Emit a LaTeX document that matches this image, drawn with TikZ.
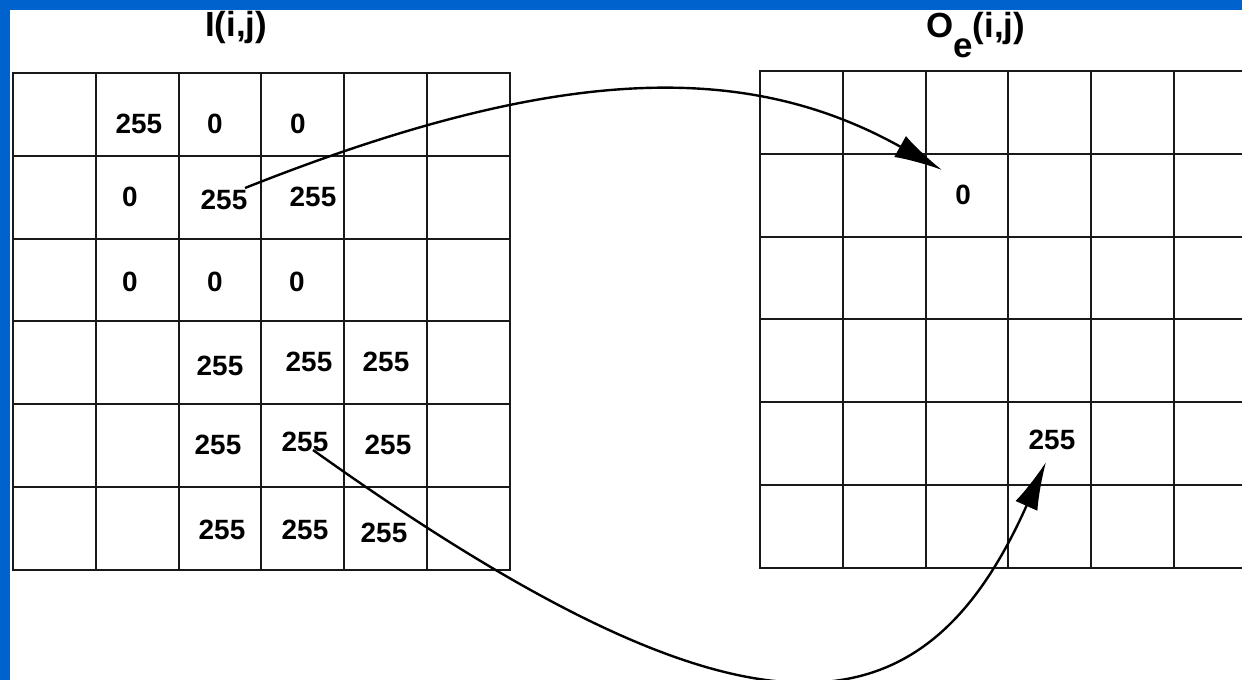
\documentclass[tikz,border=0pt]{standalone}
\usepackage{fontspec}
\setmainfont{Liberation Sans}
\usetikzlibrary{arrows.meta}
\definecolor{frameblue}{HTML}{0062CC}
\begin{document}
\begin{tikzpicture}[x=1bp,y=-1bp,
  gridline/.style={line width=2bp, draw=black!90, line cap=rect},
  val/.style={font=\fontsize{28}{30}\selectfont\bfseries, inner sep=0pt},
  ttl/.style={font=\fontsize{35}{37}\selectfont\bfseries, inner sep=0pt},
  link/.style={line width=2.4bp, -{Latex[length=48bp,width=24bp]}}]
\useasboundingbox (0,0) rectangle (1242,680);
\clip (0,0) rectangle (1242,680);
\fill[white] (0,0) rectangle (1242,680);
% left grid
\foreach \i in {0,...,6} {
  \draw[gridline] ({13+\i*82.83},73) -- ({13+\i*82.83},570);
  \draw[gridline] (13,{73+\i*82.83}) -- (510,{73+\i*82.83});
}
% right grid
\foreach \i in {0,...,6} {
  \draw[gridline] ({760+\i*82.8},71) -- ({760+\i*82.8},568);
  \draw[gridline] (760,{71+\i*82.83}) -- (1257,{71+\i*82.83});
}
% titles
\node[ttl, anchor=base] (tI) at (236,37) {I(i,j)};
\node[ttl, anchor=base west] (tO) at (926,38) {O\raisebox{-20bp}{e}(i,j)};
% left values
\node[val] (L12) at (139,124) {255};
\node[val] (L13) at (215,124) {0};
\node[val] (L14) at (298,124) {0};
\node[val] (L22) at (130,197) {0};
\node[val] (L23) at (224,200) {255};
\node[val] (L24) at (313,197) {255};
\node[val] (L32) at (130,282) {0};
\node[val] (L33) at (215,282) {0};
\node[val] (L34) at (297,282) {0};
\node[val] (L43) at (220,366) {255};
\node[val] (L44) at (309,362) {255};
\node[val] (L45) at (386,362) {255};
\node[val] (L53) at (218,445) {255};
\node[val] (L54) at (305,442) {255};
\node[val] (L55) at (388,445) {255};
\node[val] (L63) at (222,530) {255};
\node[val] (L64) at (305,530) {255};
\node[val] (L65) at (384,533) {255};
% right values
\node[val] (R23) at (963,195) {0};
\node[val] (R54) at (1052,440) {255};
% connectors
\coordinate (s1) at (245,188);
\coordinate (e1) at (942,170);
\coordinate (s2) at (313,450);
\coordinate (e2) at (1046,462);
\draw[link] (s1) .. controls (562,62) and (749,62) .. (e1);
\draw[link] (s2) .. controls (756,766) and (924,736) .. (e2);
% frame
\fill[frameblue] (0,0) rectangle (1242,10);
\fill[frameblue] (0,0) rectangle (10,680);
\end{tikzpicture}
\end{document}
